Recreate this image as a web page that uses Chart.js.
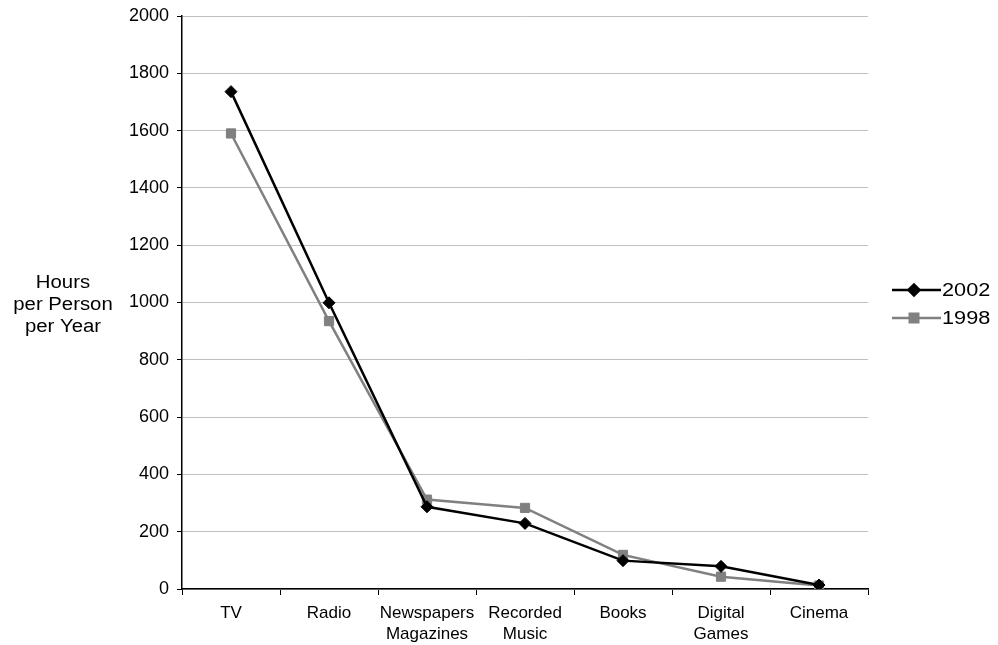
<!DOCTYPE html>
<html>
<head>
<meta charset="utf-8">
<script src="https://cdn.jsdelivr.net/npm/chart.js@4.4.1/dist/chart.umd.min.js"></script>
<style>
  html, body { margin: 0; padding: 0; background: #fff; }
  #wrap { position: relative; width: 998px; height: 645px; }
</style>
</head>
<body>
<div id="wrap"><canvas id="c" width="998" height="645"></canvas></div>
<script>
// Media categories (multi-line labels where the axis wraps them)
const categories = ['TV', 'Radio', ['Newspapers', 'Magazines'], ['Recorded', 'Music'], 'Books', ['Digital', 'Games'], 'Cinema'];
// Hours per person per year
const hours2002 = [1736, 999, 287, 229, 99, 79, 14];
const hours1998 = [1590, 935, 312, 283, 119, 43, 12];
const yTicks = [0, 200, 400, 600, 800, 1000, 1200, 1400, 1600, 1800, 2000];
const yTitleLines = ['Hours', 'per Person', 'per Year'];

const FONT = '"Liberation Sans", Arial, sans-serif';

// Draws text slightly widened horizontally around its anchor point
function wideText(ctx, text, x, y, align, sx) {
  ctx.save();
  ctx.translate(x, y);
  ctx.scale(sx, 1);
  ctx.textAlign = align;
  ctx.fillText(text, 0, 0);
  ctx.restore();
}

// Horizontal multi-line y-axis title at the left
const yTitlePlugin = {
  id: 'yTitle',
  afterDraw(chart) {
    const ctx = chart.ctx;
    ctx.save();
    ctx.font = '18px ' + FONT;
    ctx.fillStyle = '#000';
    ctx.textBaseline = 'middle';
    const ys = [283, 305, 327];
    yTitleLines.forEach((t, i) => wideText(ctx, t, 63, ys[i], 'center', 1.13));
    ctx.restore();
  }
};

// Legend on the right: line segment with the series marker, then the label
const sideLegendPlugin = {
  id: 'sideLegend',
  afterDraw(chart) {
    const ctx = chart.ctx;
    ctx.save();
    ctx.font = '17.5px ' + FONT;
    ctx.textBaseline = 'middle';
    const rows = [290, 318];
    chart.data.datasets.forEach((ds, i) => {
      const y = rows[i];
      ctx.strokeStyle = ds.borderColor;
      ctx.lineWidth = ds.borderWidth;
      ctx.beginPath();
      ctx.moveTo(892, y);
      ctx.lineTo(941, y);
      ctx.stroke();
      Chart.helpers.drawPoint(ctx, {
        pointStyle: ds.pointStyle,
        radius: ds.pointRadius - 0.5,
        borderWidth: 1
      }, 914, y);
      ctx.fillStyle = ds.pointBackgroundColor;
      ctx.fill();
      ctx.fillStyle = '#000';
      wideText(ctx, ds.label, 942, y + 1, 'left', 1.24);
    });
    ctx.restore();
  }
};

new Chart(document.getElementById('c'), {
  type: 'line',
  data: {
    labels: categories,
    datasets: [
      {
        label: '2002',
        data: hours2002,
        borderColor: '#000000',
        backgroundColor: '#000000',
        pointBackgroundColor: '#000000',
        pointBorderColor: '#000000',
        borderWidth: 2.5,
        pointStyle: 'rectRot',
        pointRadius: 6,
        pointBorderWidth: 1,
        tension: 0
      },
      {
        label: '1998',
        data: hours1998,
        borderColor: '#808080',
        backgroundColor: '#808080',
        pointBackgroundColor: '#808080',
        pointBorderColor: '#808080',
        borderWidth: 2.5,
        pointStyle: 'rect',
        pointRadius: 6.5,
        pointBorderWidth: 1,
        tension: 0
      }
    ]
  },
  options: {
    responsive: false,
    animation: false,
    layout: { padding: { left: 0, right: 130, top: 16, bottom: 0 } },
    plugins: {
      legend: { display: false },
      tooltip: { enabled: false }
    },
    scales: {
      x: {
        offset: true,
        afterFit: s => { s.height = 56; },
        grid: {
          offset: true,
          drawOnChartArea: false,
          tickLength: 6,
          tickColor: '#000',
          tickWidth: 1
        },
        border: { color: '#000', width: 1.5 },
        ticks: {
          color: '#000',
          font: { family: FONT, size: 17, lineHeight: 1.23 },
          padding: 8,
          maxRotation: 0,
          autoSkip: false
        }
      },
      y: {
        min: 0,
        max: 2000,
        afterFit: s => { s.width = 182; s.paddingTop = 0; s.paddingBottom = 0; },
        afterBuildTicks: s => { s.ticks = yTicks.map(v => ({ value: v })); },
        grid: {
          color: '#c0c0c0',
          lineWidth: 1,
          tickLength: 5,
          tickColor: '#000',
          tickWidth: 1
        },
        border: { color: '#000', width: 1.5 },
        ticks: {
          color: '#000',
          font: { family: FONT, size: 18 },
          padding: 8,
          callback: v => String(v)
        }
      }
    }
  },
  plugins: [yTitlePlugin, sideLegendPlugin]
});
</script>
</body>
</html>
